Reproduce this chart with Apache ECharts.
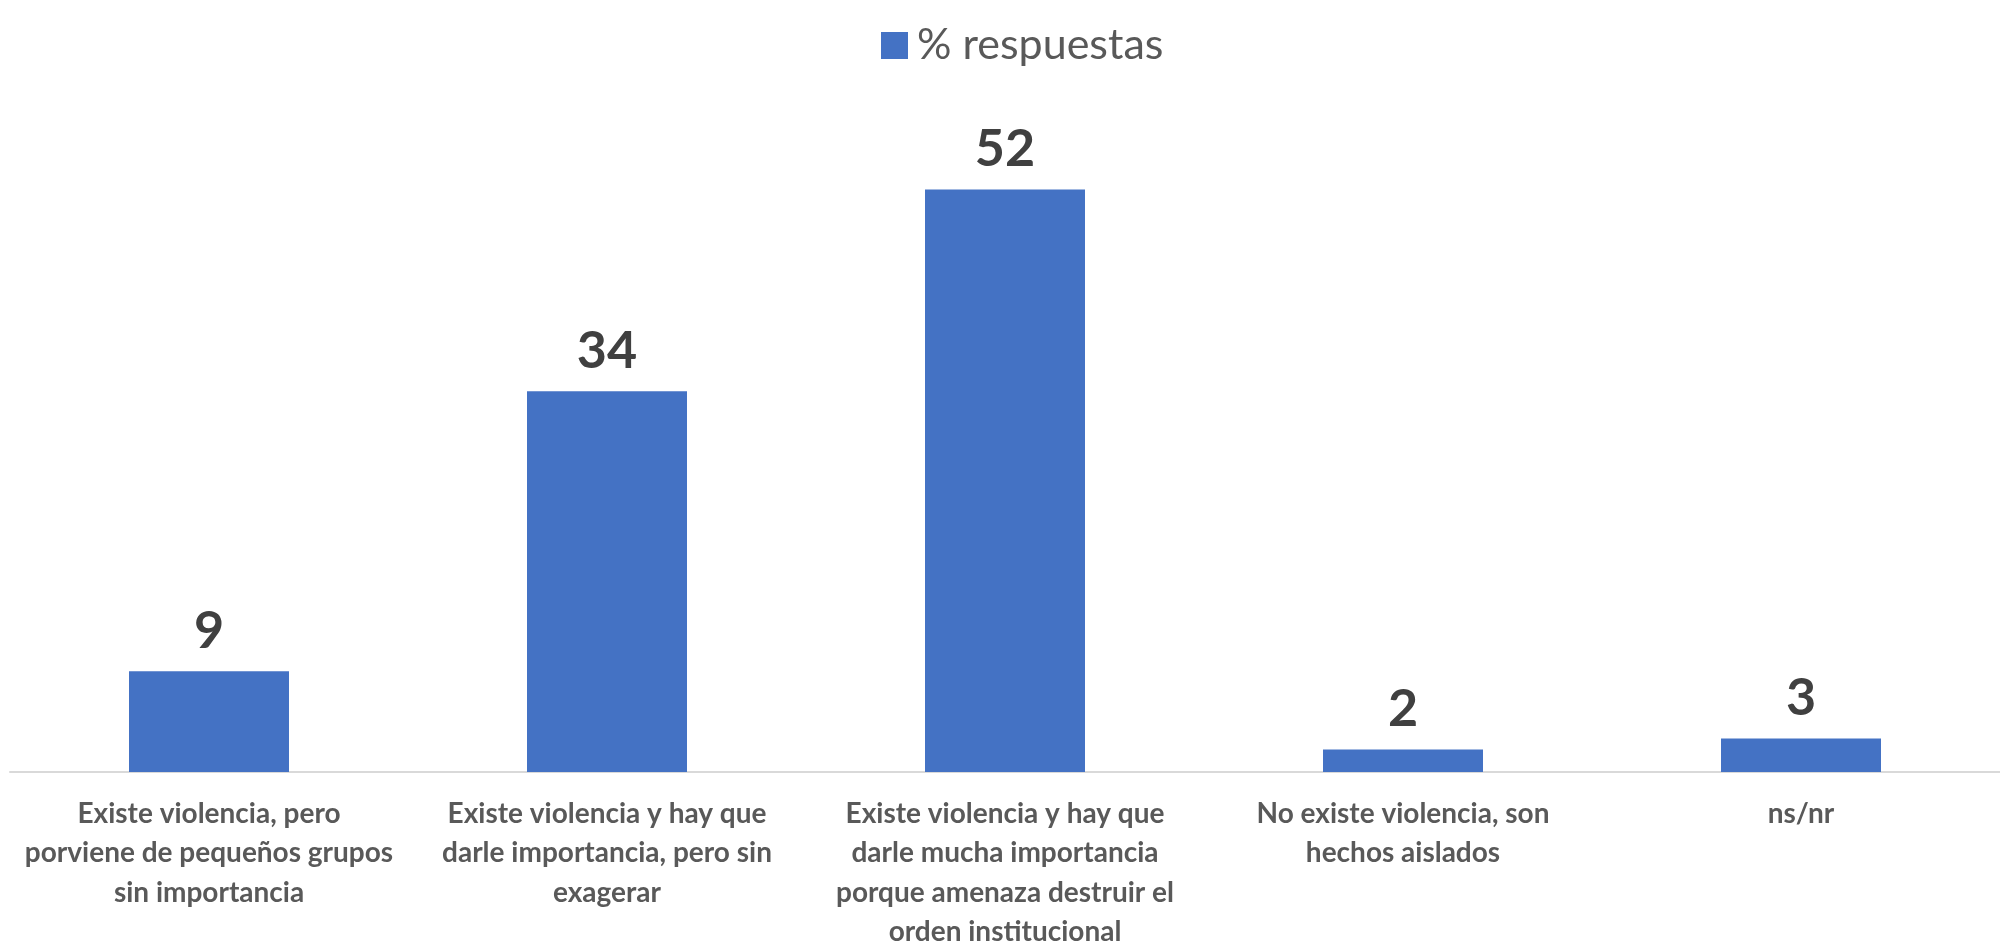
<!DOCTYPE html>
<html>
<head>
<meta charset="utf-8">
<script src="https://cdn.jsdelivr.net/npm/echarts@6/dist/echarts.min.js"></script>
<style>html,body{margin:0;padding:0;background:#fff}#c{width:2000px;height:952px}</style>
</head>
<body>
<div id="c"></div>
<script>
var categories = [
  "Existe violencia, pero\nporviene de pequeños grupos\nsin importancia",
  "Existe violencia y hay que\ndarle importancia, pero sin\nexagerar",
  "Existe violencia y hay que\ndarle mucha importancia\nporque amenaza destruir el\norden institucional",
  "No existe violencia, son\nhechos aislados",
  "ns/nr"
];
var seriesName = "% respuestas";
var values = [9, 34, 52, 2, 3];

var chart = echarts.init(document.getElementById('c'));
chart.setOption({
  animation: false,
  legend: {
    left: 876, top: 19,
    itemWidth: 27, itemHeight: 27, itemGap: 10,
    icon: 'rect',
    textStyle: { fontFamily: 'Lato', fontSize: 43, color: '#595959', padding: [0,0,0,4] },
    data: [seriesName]
  },
  grid: { left: 10, width: 2010, top: 100, bottom: 170, containLabel: false },
  xAxis: {
    type: 'category',
    data: categories,
    axisLine: { lineStyle: { color: '#D9D9D9', width: 2 } },
    axisTick: { show: false },
    axisLabel: {
      interval: 0, margin: 22,
      fontFamily: 'Lato', fontWeight: 'bold', fontSize: 28, lineHeight: 39.5,
      color: '#595959', align: 'center'
    }
  },
  yAxis: {
    type: 'value', min: 0, max: 60,
    show: false,
    splitLine: { show: false }
  },
  series: [{
    name: seriesName,
    type: 'bar',
    data: values,
    barWidth: 160,
    itemStyle: { color: '#4472C4' },
    label: {
      show: true, position: 'top', distance: 14,
      fontFamily: 'Lato', fontWeight: 'bold', fontSize: 52, color: '#404040'
    }
  }]
});
</script>
</body>
</html>
